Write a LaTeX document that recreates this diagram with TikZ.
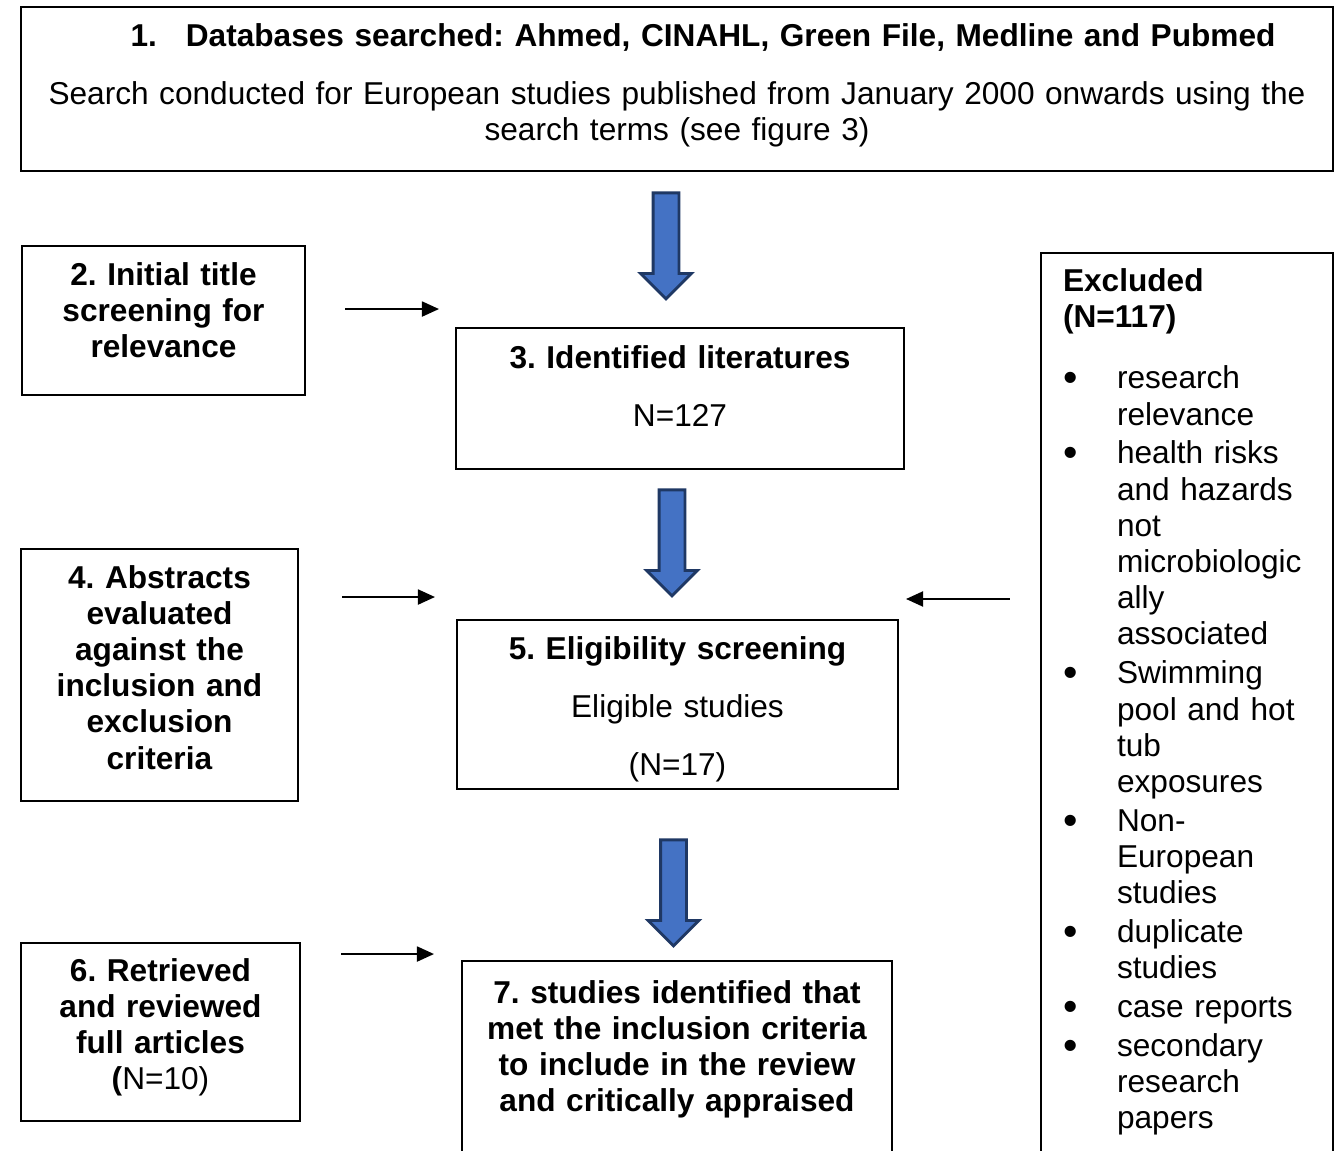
\documentclass[tikz,border=0pt]{standalone}
\usepackage{fontspec}
\setmainfont{Liberation Sans}
\usetikzlibrary{arrows.meta, positioning, shapes.arrows, calc}
\frenchspacing
\newcommand{\exbullet}{\raisebox{-1.6pt}{\scalebox{1.3}{\textbullet}}}

\begin{document}
\begin{tikzpicture}[x=0.02cm, y=-0.02cm,
  every node/.style={font=\fontsize{18}{20.6}\selectfont},
  box/.style={rectangle, draw, line width=1.2pt, inner sep=0pt, anchor=north, align=center},
  link/.style={-{Triangle[length=0.34cm, width=0.3cm]}, line width=1.1pt},
  bigarrow/.style={single arrow, draw=arrowline, fill=arrowfill, line width=1.6pt,
    minimum height=2.12cm, minimum width=0.96cm, single arrow head extend=0.25cm,
    shape border rotate=270, inner sep=0.23cm, anchor=tail}]
  % Colours of the block arrows
  \definecolor{arrowfill}{RGB}{68,114,196}   % Blue
  \definecolor{arrowline}{RGB}{31,56,100}    % Navy

  \useasboundingbox (0,0) rectangle (1340,1151);
  \clip (0,0) rectangle (1340,1151);
  \fill[white] (0,0) rectangle (1340,1151);

  % Search box
  \node[box, minimum width=26.24cm, text width=25.9cm, text height=0.78cm, text depth=2.5cm] (search) at (677,6)
    {\hspace*{1.04cm}\textbf{1.\hspace{0.58cm}Databases searched: Ahmed, CINAHL, Green File, Medline and Pubmed}\\[12.5pt]
     Search conducted for European studies published from January 2000 onwards using the\\ search terms (see figure 3)};

  % Screening steps on the left
  \node[box, minimum width=5.66cm, text width=5.4cm, text height=0.78cm, text depth=2.2cm] (title) at (163.5,245)
    {\textbf{2. Initial title\\screening for\\relevance}};
  \node[box, minimum width=5.54cm, text width=5.3cm, text height=0.78cm, text depth=4.26cm] (abstracts) at (159.5,548)
    {\textbf{4. Abstracts\\evaluated\\against the\\inclusion and\\exclusion\\criteria}};
  \node[box, minimum width=5.58cm, text width=5.3cm, text height=0.76cm, text depth=2.8cm] (fulltext) at (160.5,942)
    {\textbf{6. Retrieved\\and reviewed\\full articles\\(}N=10)};

  % Results in the middle
  \node[box, minimum width=8.96cm, text width=8.6cm, text height=0.8cm, text depth=2.02cm] (identified) at (680,327)
    {\textbf{3. Identified literatures}\\[12.5pt] N=127};
  \node[box, minimum width=8.82cm, text width=8.5cm, text height=0.78cm, text depth=2.6cm] (eligible) at (677.5,619)
    {\textbf{5. Eligibility screening}\\[12.5pt] Eligible studies\\[12.5pt] (N=17)};
  \node[box, minimum width=8.6cm, text width=8.3cm, text height=0.84cm, text depth=6cm] (included) at (677,960)
    {\textbf{7. studies identified that\\met the inclusion criteria\\to include in the review\\and critically appraised}};

  % Excluded studies
  \node[box, align=left, minimum width=5.84cm, text width=4.96cm, text height=0.76cm, text depth=20cm] (excluded) at (1187,252)
    {\textbf{Excluded\\(N=117)}\\[14.5pt]
     \begin{tabular}[t]{@{}p{1.08cm}@{}l@{}}
       \exbullet & research\\
                 & relevance\\[1.5pt]
       \exbullet & health risks\\
                 & and hazards\\
                 & not\\
                 & microbiologic\\
                 & ally\\
                 & associated\\[1.6pt]
       \exbullet & Swimming\\
                 & pool and hot\\
                 & tub\\
                 & exposures\\[1.5pt]
       \exbullet & Non-\\
                 & European\\
                 & studies\\[1.5pt]
       \exbullet & duplicate\\
                 & studies\\[1.6pt]
       \exbullet & case reports\\[1.5pt]
       \exbullet & secondary\\
                 & research\\
                 & papers
     \end{tabular}};

  % Block arrows
  \node[bigarrow] (down1) at (666,191.5) {};
  \node[bigarrow] (down2) at (672,488.5) {};
  \node[bigarrow] (down3) at (673.5,838.5) {};

  % Side arrows
  \coordinate (s2) at ($(title.east)+(39,-11.5)$);
  \coordinate (s4) at ($(abstracts.east)+(43,-78)$);
  \coordinate (s6) at ($(fulltext.east)+(40,-78)$);
  \coordinate (sx) at ($(excluded.north west)+(-30,347)$);
  \draw[link] (s2) -- ($(s2 -| identified.west)+(-16,0)$);
  \draw[link] (s4) -- ($(s4 -| eligible.west)+(-21,0)$);
  \draw[link] (s6) -- ($(s6 -| included.west)+(-27,0)$);
  \draw[link] (sx) -- ($(sx -| eligible.east)+(7,0)$);
\end{tikzpicture}
\end{document}
